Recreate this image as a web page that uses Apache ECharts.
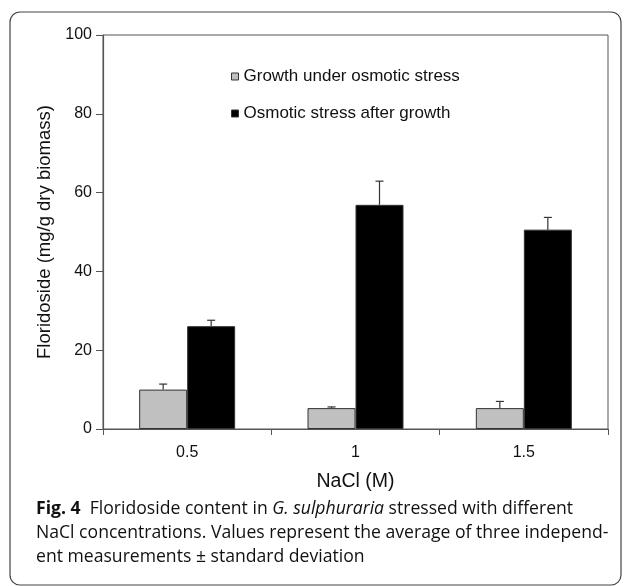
<!DOCTYPE html>
<html><head><meta charset="utf-8">
<script src="https://cdn.jsdelivr.net/npm/echarts@6/dist/echarts.min.js"></script>
<style>html,body{margin:0;padding:0;background:#fff}#c{width:629px;height:586px}</style>
</head><body><div id="c"></div>
<script>
const categories = ['0.5', '1', '1.5'];
const growthUnderStress = [10.0, 5.3, 5.3];
const growthUnderStressSD = [1.4, 0.3, 1.7];
const stressAfterGrowth = [26.1, 56.9, 50.6];
const stressAfterGrowthSD = [1.5, 6.0, 3.1];
const yTicks = [0, 20, 40, 60, 80, 100];
const seriesNames = ['Growth under osmotic stress', 'Osmotic stress after growth'];

const chart = echarts.init(document.getElementById('c'));
const axisCol = '#555';
const font = 'Liberation Sans, Arial, sans-serif';
const capFont = '"Open Sans", sans-serif';

function errorSeries(vals, sds, offset) {
  return {
    type: 'custom',
    silent: true,
    z: 5,
    data: vals.map((v, i) => [i, v, v + sds[i]]),
    renderItem: function (params, api) {
      const i = api.value(0);
      const base = api.coord([i, api.value(1)]);
      const top = api.coord([i, api.value(2)]);
      const x = base[0] + offset;
      return {
        type: 'group',
        children: [
          { type: 'line', shape: { x1: x, y1: base[1], x2: x, y2: top[1] }, style: { stroke: '#333', lineWidth: 1.2 } },
          { type: 'line', shape: { x1: x - 4, y1: top[1], x2: x + 4, y2: top[1] }, style: { stroke: '#333', lineWidth: 1.2 } }
        ]
      };
    }
  };
}

chart.setOption({
  animation: false,
  grid: { left: 103, top: 35, right: 21, bottom: 157, show: true, borderColor: axisCol, borderWidth: 1 },
  legend: {
    orient: 'vertical', left: 226, top: 63, itemGap: 20,
    itemWidth: 7, itemHeight: 7,
    textStyle: { fontFamily: font, fontSize: 17, color: '#111' },
    data: [
      { name: seriesNames[0], icon: 'rect', itemStyle: { color: '#c0c0c0', borderColor: '#333', borderWidth: 1 } },
      { name: seriesNames[1], icon: 'rect', itemStyle: { color: '#000', borderColor: '#333', borderWidth: 1 } }
    ]
  },
  xAxis: {
    type: 'category', data: categories,
    axisLine: { lineStyle: { color: axisCol, width: 1.2 } },
    axisTick: { show: true, alignWithLabel: false, length: 6, inside: false, lineStyle: { color: axisCol } },
    axisLabel: { fontFamily: font, fontSize: 16, color: '#111', margin: 16 },
    name: 'NaCl (M)', nameLocation: 'middle', nameGap: 43,
    nameTextStyle: { fontFamily: font, fontSize: 19.5, color: '#111' }
  },
  yAxis: {
    type: 'value', min: 0, max: 100, interval: 20,
    axisLine: { show: true, lineStyle: { color: axisCol, width: 1.2 } },
    axisTick: { show: true, length: 7, lineStyle: { color: axisCol } },
    splitLine: { show: false },
    axisLabel: { fontFamily: font, fontSize: 16, color: '#111', margin: 11,
      formatter: v => yTicks.includes(v) ? String(v) : '' },
    name: 'Floridoside (mg/g dry biomass)', nameLocation: 'middle', nameGap: 47, nameRotate: 90,
    nameTextStyle: { fontFamily: font, fontSize: 18.5, color: '#111' }
  },
  series: [
    { name: seriesNames[0], type: 'bar', data: growthUnderStress, barWidth: 48, barGap: '0%',
      itemStyle: { color: '#c0c0c0', borderColor: '#333', borderWidth: 1 } },
    { name: seriesNames[1], type: 'bar', data: stressAfterGrowth, barWidth: 48, barGap: '0%',
      itemStyle: { color: '#000', borderColor: '#333', borderWidth: 1 } },
    errorSeries(growthUnderStress, growthUnderStressSD, -24),
    errorSeries(stressAfterGrowth, stressAfterGrowthSD, 24)
  ],
  graphic: [
    { type: 'rect', shape: { x: 10, y: 12, width: 611, height: 573, r: 10 },
      style: { fill: 'none', stroke: '#444', lineWidth: 1.2 }, z: -1 },
    { type: 'text', left: 36, top: 500, style: {
        text: '{b|Fig. 4}  Floridoside content in {i|G. sulphuraria} stressed with different',
        rich: { b: { fontWeight: 'bold', fontFamily: capFont, fontSize: 17.6, fill: '#111' },
                i: { fontStyle: 'italic', fontFamily: capFont, fontSize: 17.6, fill: '#111' } },
        font: '17.6px "Open Sans"', fill: '#111' } },
    { type: 'text', left: 36, top: 524, style: {
        text: 'NaCl concentrations. Values represent the average of three independ-',
        font: '17.6px "Open Sans"', fill: '#111' } },
    { type: 'text', left: 36, top: 548, style: {
        text: 'ent measurements \u00b1 standard deviation',
        font: '17.6px "Open Sans"', fill: '#111' } }
  ]
});
</script></body></html>
